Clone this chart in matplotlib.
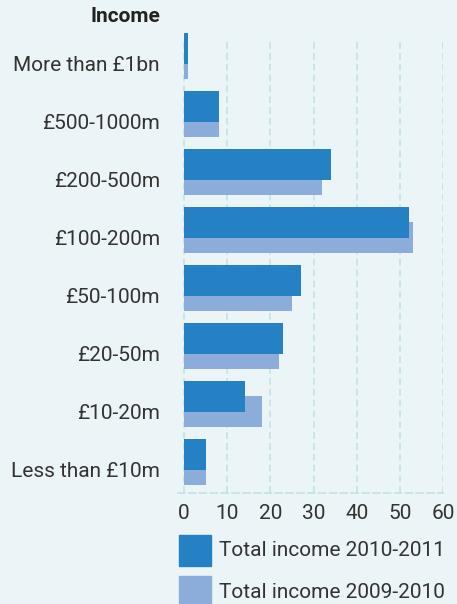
import matplotlib
matplotlib.use("Agg")
from matplotlib import pyplot as plt
from matplotlib.patches import Rectangle

plt.rcParams['font.family'] = ['Roboto', 'DejaVu Sans']

# income bands
bands = ['More than £1bn', '£500-1000m', '£200-500m', '£100-200m',
         '£50-100m', '£20-50m', '£10-20m', 'Less than £10m']

# number of charities per band
income_2011 = [1, 8, 34, 52, 27, 23, 14, 5]
income_2010 = [1, 8, 32, 53, 25, 22, 18, 5]

series_names = ['Total income 2010-2011', 'Total income 2009-2010']
x_ticks = [0, 10, 20, 30, 40, 50, 60]

bg = '#ebf4f6'
dark = '#2581c4'
light = '#8cadd9'
grid_c = '#c3e2e7'
txt = '#333333'
fs = 15

fig = plt.figure(figsize=(4.57, 6.04), dpi=100, facecolor=bg)
ax = fig.add_axes([0.3895, 0.1838, 0.5807, 0.75], facecolor=bg)

pos = list(range(len(bands)))
h = 0.534
ax.barh([p for p in pos], income_2010, height=h, color=light, zorder=2, clip_on=False)
ax.barh([p - 0.26 for p in pos], income_2011, height=h, color=dark, zorder=3, clip_on=False)

ax.set_xlim(-1.4, 60)
ax.set_ylim(7.405, -0.405)
ax.set_yticks(pos)
ax.set_yticklabels(bands, fontsize=fs, color=txt)
ax.set_xticks(x_ticks)
ax.set_xticklabels([str(t) for t in x_ticks], fontsize=fs, color=txt)
ax.tick_params(length=0, axis='y', pad=13)
ax.tick_params(length=0, axis='x', pad=8)

ax.grid(axis='x', color=grid_c, linestyle=(0, (4, 2.5)), linewidth=1.2, zorder=1)
for s in ['top', 'right', 'left']:
    ax.spines[s].set_visible(False)
ax.spines['bottom'].set_color(grid_c)
ax.spines['bottom'].set_linestyle((0, (4, 2.5)))
ax.spines['bottom'].set_linewidth(1.2)

fig.text(160 / 457, 1 - 17 / 604, 'Income', ha='right', va='center',
         fontsize=fs, fontweight='bold', color='#222222')

# legend
W, H = 457, 604
for i, (name, col) in enumerate(zip(series_names, [dark, light])):
    y_top = 535 + 41 * i
    fig.add_artist(Rectangle((179 / W, 1 - (y_top + 31) / H), 32 / W, 31 / H,
                             transform=fig.transFigure, color=col))
    fig.text(219 / W, 1 - (y_top + 16) / H, name, ha='left', va='center',
             fontsize=fs, color=txt)

fig.savefig('out.png', dpi=100, facecolor=bg)
